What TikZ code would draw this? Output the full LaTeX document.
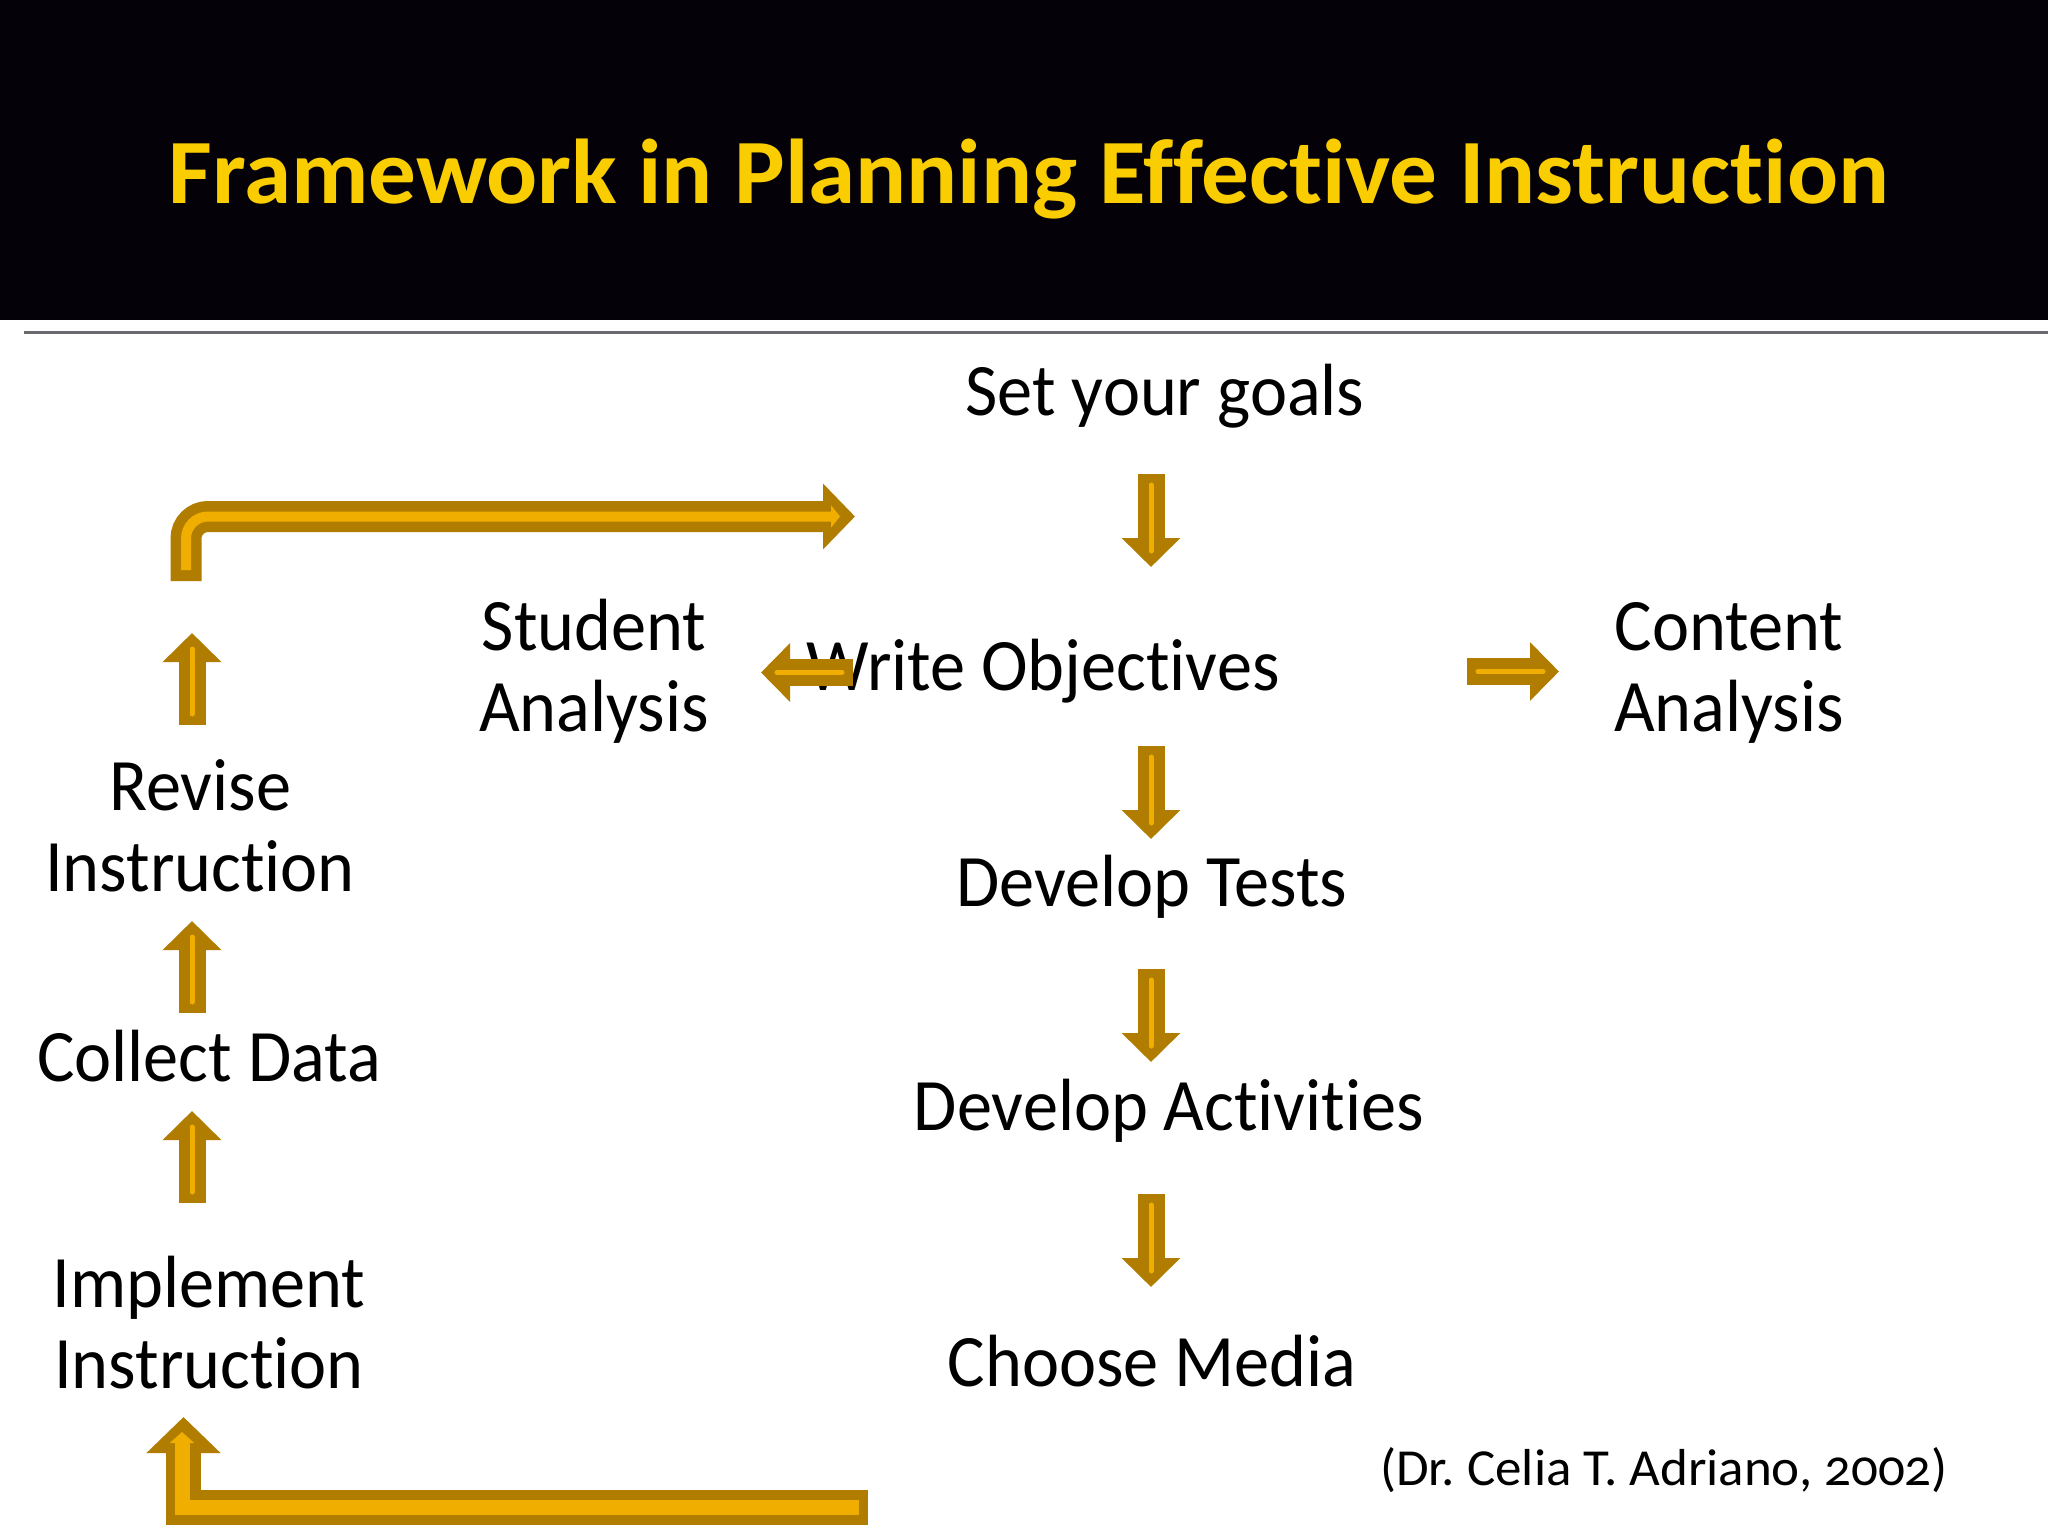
\documentclass[tikz,border=0pt]{standalone}
\usepackage{fontspec}
\setmainfont{Carlito}[FakeStretch=0.95, RawFeature=-liga]
\newfontfamily\titlefont{Carlito}[FakeStretch=1.035, RawFeature=-liga]
\newfontfamily\citefont{Carlito}[FakeStretch=1.02, Numbers=OldStyle, RawFeature=-liga]
\usetikzlibrary{arrows.meta,calc}
\definecolor{arrdark}{RGB}{176,125,0}
\definecolor{arrlight}{RGB}{240,174,0}
\definecolor{titleyel}{RGB}{250,205,0}
\definecolor{rulegray}{RGB}{105,105,110}
\definecolor{bandblack}{RGB}{4,2,8}
\frenchspacing
\begin{document}
\begin{tikzpicture}[x=1pt,y=-1pt,
  lbl/.style={font=\fontsize{74}{81}\selectfont, align=center, anchor=base, inner sep=0pt, text=black},
  darkarr/.style={draw=arrdark, line width=27pt, -{Triangle[width=57pt,length=29pt]}},
  lightarr/.style={draw=arrlight, line width=5pt, line cap=round},
  bigdark/.style={draw=arrdark, line width=#1},
  biglight/.style={draw=arrlight, line width=#1},
]
\useasboundingbox (0,0) rectangle (2048,1536);
\fill[white] (0,0) rectangle (2048,1536);
\fill[bandblack] (0,0) rectangle (2048,320);
\draw[rulegray, line width=3pt] (24,332) -- (2048,332);

\node[font=\titlefont\bfseries\fontsize{92}{96}\selectfont, text=titleyel, anchor=base, inner sep=0pt] (title) at (1029,203) {Framework in Planning Effective Instruction};

\node[lbl] (goals) at (1165,415) {Set your goals};
\node[lbl] (student) at (594,731) {Student\\Analysis};
\node[lbl] (write) at (1043,690) {Write Objectives};
\node[lbl] (content) at (1729,731) {Content\\Analysis};
\node[lbl] (tests) at (1152,906) {Develop Tests};
\node[lbl] (activities) at (1169,1130) {Develop Activities};
\node[lbl] (media) at (1152,1386) {Choose Media};
\node[lbl] (revise) at (200,891) {Revise\\Instruction};
\node[lbl] (collect) at (209,1081) {Collect Data};
\node[lbl] (implement) at (209,1388) {Implement\\Instruction};
\node[lbl, font=\citefont\fontsize{52}{54}\selectfont] (cite) at (1664,1485) {(Dr. Celia T. Adriano, 2002)};

% small block arrows
\foreach \n/\sx/\sy/\ex/\ey in {d1/1151/474/1151/567, d2/1151/746/1151/839, d3/1151/969/1151/1062, d4/1151/1194/1151/1287,
  u1/192/725/192/633, u2/192/1013/192/921, u3/192/1203/192/1111,
  lf/853/672.5/761/672.5, rt/1467/671.5/1559/671.5}{
  \coordinate (\n-s) at (\sx,\sy);
  \coordinate (\n-e) at (\ex,\ey);
  \draw[darkarr] (\n-s) -- (\n-e);
  \draw[lightarr] ($(\n-s)!11pt!(\n-e)$) -- ($(\n-e)!16pt!(\n-s)$);
}

% top bent arrow
\coordinate (t-s) at (186,581);
\coordinate (t-c) at (186,516.5);
\coordinate (t-e) at (855,516.5);
\draw[bigdark=31pt, rounded corners=22pt, -{Triangle[width=64pt,length=32pt]}] (t-s) -- (t-c) -- (t-e);
\draw[biglight=10pt, rounded corners=22pt, -{Triangle[width=22pt,length=9pt]}] (186,570) -- (t-c) -- (840,516.5);

% bottom bent arrow
\coordinate (b-s) at (868,1507.5);
\coordinate (b-c) at (183.5,1507.5);
\coordinate (b-e) at (183.5,1417);
\draw[bigdark=35pt, miter limit=10, -{Triangle[width=72pt,length=36pt]}] (b-s) -- (b-c) -- (b-e);
\draw[biglight=15pt, miter limit=10, -{Triangle[width=24pt,length=11pt]}] (859,1507.5) -- (182,1507.5) -- (182,1432);
\end{tikzpicture}
\end{document}
